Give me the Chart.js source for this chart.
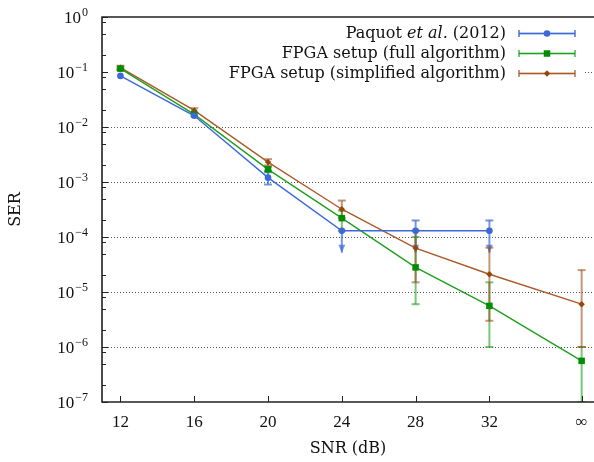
<!DOCTYPE html>
<html><head><meta charset="utf-8">
<script src="https://cdn.jsdelivr.net/npm/chart.js@4"></script>
<style>html,body{margin:0;padding:0;overflow:hidden;background:#fff}</style>
</head><body>
<canvas id="c" width="594" height="462" style="display:block;width:594px;height:462px"></canvas>
<script>
// ---- data ----
const snrPositions = [12, 16, 20, 24, 28, 32, 37];          // 37 stands for the "∞" column
const xTickLabels  = ['12', '16', '20', '24', '28', '32', '∞'];
const yTickExponents = [0, -1, -2, -3, -4, -5, -6, -7];
const seriesNames = ['Paquot et al. (2012)', 'FPGA setup (full algorithm)', 'FPGA setup (simplified algorithm)'];

const paquotSER  = [0.085, 0.016, 0.0012, 1.3e-4, 1.3e-4, 1.3e-4, null];
const paquotHigh = [null, null, 1.6e-3, null, 2e-4, 2e-4, null];
const paquotLow  = [null, null, 9e-4, 0, 0, 0, null];      // 0 = lower bound at zero

const fullSER  = [0.115, 0.017, 0.0017, 2.2e-4, 2.8e-5, 5.6e-6, 5.6e-7];
const fullHigh = [0.12, 0.018, 0.0019, 3e-4, 1e-4, 1.5e-5, 1e-6];
const fullLow  = [0.11, 0.016, 0.0015, 1.3e-4, 6e-6, 1e-6, 1e-7];

const simpSER  = [0.12, 0.02, 0.0023, 3.2e-4, 6.3e-5, 2.1e-5, 6e-6];
const simpHigh = [0.13, 0.022, 0.0026, 4.6e-4, 1.3e-4, 6.4e-5, 2.5e-5];
const simpLow  = [0.11, 0.018, 0.002, 2.2e-4, 1.5e-5, 3e-6, 1e-6];

// ---- styles ----
const NUMFONT = '"Liberation Serif", "DejaVu Serif", serif';
const TXTFONT = '"DejaVu Serif", "Liberation Serif", serif';
const BLUE = 'rgb(60,105,215)', GREEN_L = 'rgb(30,160,30)', GREEN_M = 'rgb(0,140,0)', BROWN_L = 'rgb(170,90,40)', BROWN_M = 'rgb(150,70,10)';

function pts(vals) {
  return snrPositions.map((x, i) => ({x, y: vals[i]})).filter(p => p.y !== null);
}
const centers = [paquotSER, fullSER, simpSER];

const datasets = [
  {label: seriesNames[0], data: pts(paquotSER), borderColor: BLUE, backgroundColor: BLUE, borderWidth: 1.4,
   pointStyle: 'circle', pointRadius: 3.3, pointBorderWidth: 0, errHigh: paquotHigh, errLow: paquotLow, errColor: 'rgba(60,105,215,0.7)', sample: BLUE},
  {label: seriesNames[1], data: pts(fullSER), borderColor: GREEN_L, backgroundColor: GREEN_M, borderWidth: 1.4,
   pointStyle: 'rect', pointRadius: 4.6, pointBorderWidth: 0, errHigh: fullHigh, errLow: fullLow, errColor: 'rgba(30,160,30,0.6)', sample: GREEN_L},
  {label: seriesNames[2], data: pts(simpSER), borderColor: BROWN_L, backgroundColor: BROWN_M, borderWidth: 1.4,
   pointStyle: 'rectRot', pointRadius: 3.2, pointBorderWidth: 0, errHigh: simpHigh, errLow: simpLow, errColor: 'rgba(160,80,30,0.6)', sample: BROWN_L}
];

const framePlugin = {
  id: 'frame',
  beforeDatasetsDraw(chart) {
    const {ctx, chartArea: a, scales: {x, y}} = chart;
    ctx.save();
    // dotted grid
    ctx.strokeStyle = '#555'; ctx.lineWidth = 1; ctx.setLineDash([1, 2]);
    yTickExponents.forEach(e => {
      if (e === 0 || e === -7) return;
      const py = Math.round(y.getPixelForValue(Math.pow(10, e))) + 0.5;
      const startX = e === -1 ? 585 : a.left;
      ctx.beginPath(); ctx.moveTo(startX, py); ctx.lineTo(a.right, py); ctx.stroke();
    });
    ctx.setLineDash([]);
    // error bars
    ctx.beginPath(); ctx.rect(a.left, a.top, a.right - a.left, a.bottom - a.top); ctx.clip();
    chart.data.datasets.forEach((ds, di) => {
      ctx.strokeStyle = ds.errColor; ctx.fillStyle = ds.errColor; ctx.lineWidth = 2;
      snrPositions.forEach((sx, i) => {
        const hi = ds.errHigh[i], lo = ds.errLow[i];
        if (hi === null && lo === null) return;
        const px = x.getPixelForValue(sx);
        const yc = y.getPixelForValue(centers[di][i]);
        const yh = hi === null ? yc : y.getPixelForValue(hi);
        const arrow = lo === 0;
        let yl;
        if (lo === null) yl = yc; else if (arrow) yl = yc + 22; else yl = y.getPixelForValue(lo);
        ctx.beginPath(); ctx.moveTo(px, yh); ctx.lineTo(px, yl); ctx.stroke();
        if (hi !== null) { ctx.beginPath(); ctx.moveTo(px - 4, yh); ctx.lineTo(px + 4, yh); ctx.stroke(); }
        if (arrow) {
          ctx.beginPath(); ctx.moveTo(px - 3.5, yl - 8); ctx.lineTo(px + 3.5, yl - 8); ctx.lineTo(px, yl); ctx.closePath(); ctx.fill();
        } else if (lo !== null) { ctx.beginPath(); ctx.moveTo(px - 4, yl); ctx.lineTo(px + 4, yl); ctx.stroke(); }
      });
    });
    ctx.restore();
  },
  afterDatasetsDraw(chart) {
    const {ctx, chartArea: a, scales: {x, y}} = chart;
    ctx.save();
    // frame (right edge lies outside the picture)
    ctx.strokeStyle = '#222'; ctx.lineWidth = 1.6;
    ctx.beginPath();
    ctx.moveTo(a.right + 2, a.top); ctx.lineTo(a.left, a.top); ctx.lineTo(a.left, a.bottom); ctx.lineTo(a.right + 2, a.bottom);
    ctx.stroke();
    // left ticks
    ctx.lineWidth = 1;
    yTickExponents.forEach(e => {
      const py = Math.round(y.getPixelForValue(Math.pow(10, e))) + 0.5;
      ctx.beginPath(); ctx.moveTo(a.left, py); ctx.lineTo(a.left + 6, py); ctx.stroke();
      if (e > -7) [2, 5, 8].forEach(m => {
        const my = Math.round(y.getPixelForValue(m * Math.pow(10, e - 1))) + 0.5;
        ctx.beginPath(); ctx.moveTo(a.left, my); ctx.lineTo(a.left + 4, my); ctx.stroke();
      });
    });
    // bottom ticks
    snrPositions.forEach(sx => {
      const px = Math.round(x.getPixelForValue(sx)) + 0.5;
      ctx.beginPath(); ctx.moveTo(px, a.bottom); ctx.lineTo(px, a.bottom - 6); ctx.stroke();
    });
    // y tick labels 10^e
    ctx.fillStyle = '#111'; ctx.textAlign = 'left'; ctx.textBaseline = 'alphabetic';
    yTickExponents.forEach(e => {
      const py = y.getPixelForValue(Math.pow(10, e));
      const exp = e < 0 ? '\u2212' + (-e) : String(e);
      ctx.font = '12px ' + NUMFONT; const ew = ctx.measureText(exp).width;
      ctx.font = '17px ' + NUMFONT; const tw = ctx.measureText('10').width;
      const x0 = 88 - ew - tw - 1;
      ctx.fillText('10', x0, py + 6);
      ctx.font = '12px ' + NUMFONT; ctx.fillText(exp, x0 + tw + 1, py - 1);
    });
    // legend
    chart.data.datasets.forEach((ds, i) => {
      const ry = 33 + 20 * i;
      const name = seriesNames[i];
      const parts = name.includes('et al.') ? [[name.split('et al.')[0], false], ['et al.', true], [name.split('et al.')[1], false]] : [[name, false]];
      let total = 0;
      parts.forEach(p => { ctx.font = (p[1] ? 'italic ' : '') + '16px ' + TXTFONT; total += ctx.measureText(p[0]).width; });
      let tx = 506 - total;
      ctx.fillStyle = '#111'; ctx.textAlign = 'left';
      parts.forEach(p => { ctx.font = (p[1] ? 'italic ' : '') + '16px ' + TXTFONT; ctx.fillText(p[0], tx, ry + 5); tx += ctx.measureText(p[0]).width; });
      // sample
      ctx.strokeStyle = ds.errColor; ctx.lineWidth = 2;
      ctx.beginPath(); ctx.moveTo(519, ry + 0.5); ctx.lineTo(575, ry + 0.5); ctx.stroke();
      ctx.beginPath(); ctx.moveTo(519, ry - 3); ctx.lineTo(519, ry + 4); ctx.moveTo(575, ry - 3); ctx.lineTo(575, ry + 4); ctx.stroke();
      ctx.strokeStyle = ds.sample; ctx.lineWidth = 1;
      ctx.beginPath(); ctx.moveTo(519, ry + 0.5); ctx.lineTo(575, ry + 0.5); ctx.stroke();
      ctx.fillStyle = ds.backgroundColor;
      ctx.beginPath();
      if (ds.pointStyle === 'circle') ctx.arc(547, ry + 0.5, ds.pointRadius, 0, Math.PI * 2);
      else if (ds.pointStyle === 'rect') { const s = ds.pointRadius * Math.SQRT2 / 2; ctx.rect(547 - s, ry + 0.5 - s, 2 * s, 2 * s); }
      else { const r = ds.pointRadius; ctx.moveTo(547, ry + 0.5 - r); ctx.lineTo(547 + r, ry + 0.5); ctx.lineTo(547, ry + 0.5 + r); ctx.lineTo(547 - r, ry + 0.5); ctx.closePath(); }
      ctx.fill();
    });
    ctx.restore();
  }
};

new Chart(document.getElementById('c'), {
  type: 'line',
  data: {datasets},
  options: {
    responsive: false, animation: false, devicePixelRatio: 1,
    layout: {autoPadding: false, padding: {top: 17, right: 0, left: 0, bottom: 0}},
    plugins: {legend: {display: false}, tooltip: {enabled: false}},
    elements: {line: {tension: 0}},
    scales: {
      x: {
        type: 'linear', min: 11, max: 37.67,
        grid: {display: false, drawTicks: false}, border: {display: false},
        afterBuildTicks: s => { s.ticks = snrPositions.map(v => ({value: v})); },
        ticks: {autoSkip: false, maxRotation: 0, padding: 10, color: '#111', font: {family: NUMFONT, size: 17},
                callback: (v, i) => xTickLabels[i]},
        afterFit: s => { s.height = 60; s.paddingLeft = 0; s.paddingRight = 0; },
        title: {display: true, text: 'SNR (dB)', color: '#111', font: {family: TXTFONT, size: 16}, padding: {top: 0, bottom: 4}}
      },
      y: {
        type: 'logarithmic', min: 1e-7, max: 1,
        grid: {display: false, drawTicks: false}, border: {display: false},
        ticks: {display: false},
        afterFit: s => { s.width = 102; s.paddingTop = 0; s.paddingBottom = 0; },
        title: {display: true, text: 'SER', color: '#111', font: {family: TXTFONT, size: 16}, padding: {top: 6, bottom: 0}}
      }
    }
  },
  plugins: [framePlugin]
});
</script>
</body></html>
